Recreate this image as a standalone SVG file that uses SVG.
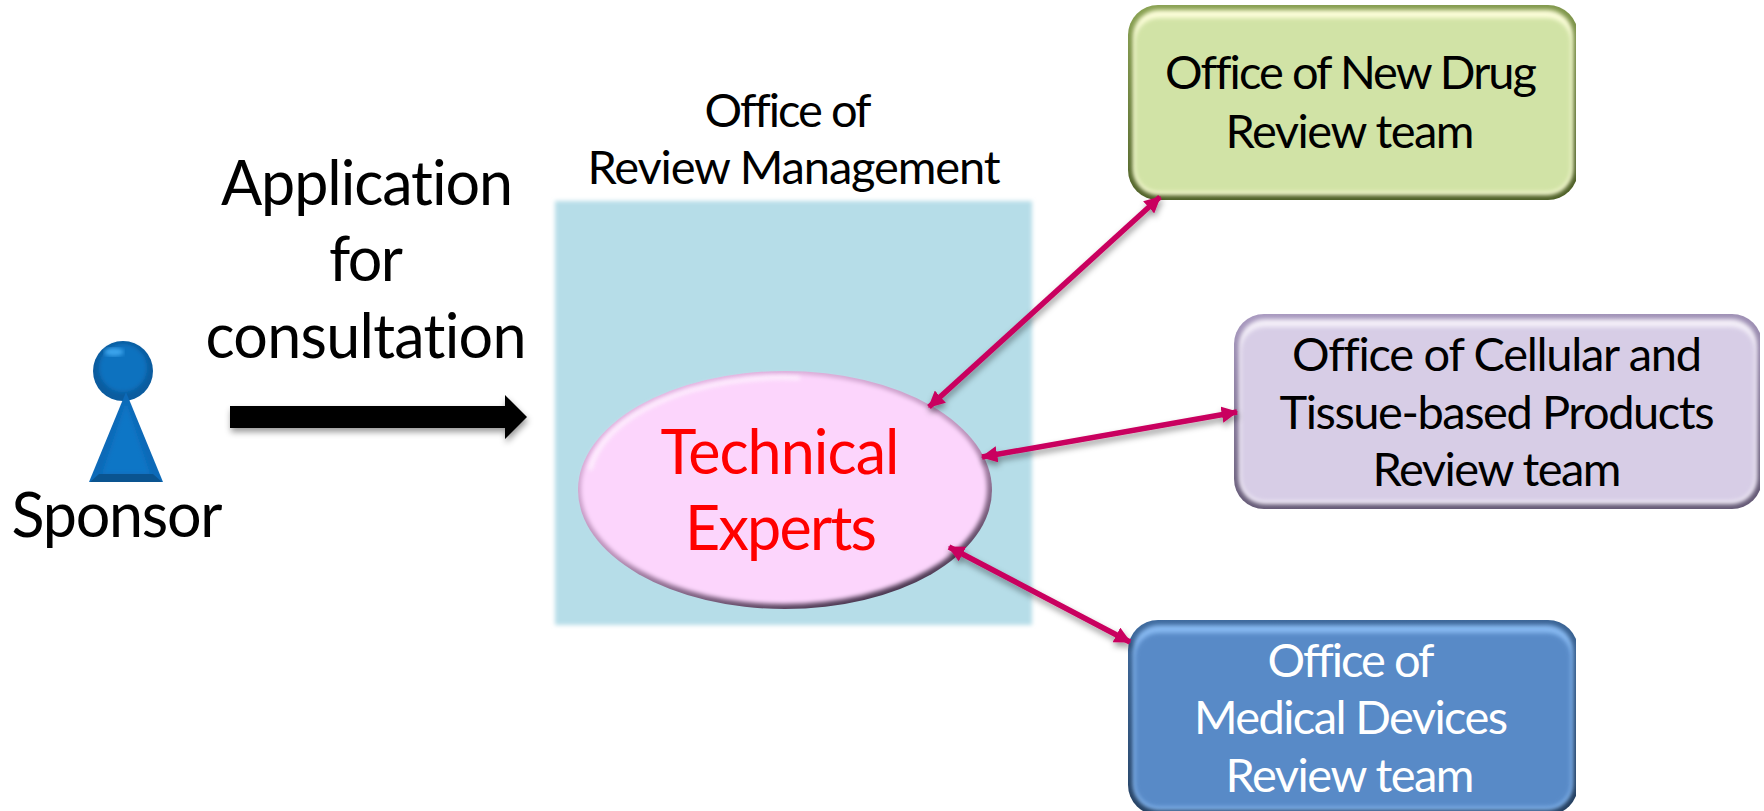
<svg xmlns="http://www.w3.org/2000/svg" width="1764" height="811" viewBox="0 0 1764 811">
<style>
text{font-family:"Lato","Liberation Sans",sans-serif;text-anchor:middle;fill:#000;font-variant-ligatures:none}
.b{font-size:61px}.m{font-size:47px}.w{fill:#fff}
.c{fill:none;stroke:#c9005f;stroke-width:5.5}
</style>
<defs>
<filter id="soft" x="-5%" y="-5%" width="110%" height="110%"><feGaussianBlur stdDeviation="2"/></filter>
<filter id="sh" x="-20%" y="-20%" width="140%" height="150%"><feDropShadow dx="1" dy="4" stdDeviation="3" flood-color="#000" flood-opacity=".4"/></filter>
<marker id="ah" markerWidth="3" markerHeight="3" refX="6.5" refY="3.5" orient="auto-start-reverse" viewBox="0 0 7 7"><path d="M0 0L7 3.5L0 7Z" fill="#c9005f"/></marker>
<linearGradient id="gG" x1="0" y1="0" x2="0.15" y2="1"><stop offset="0" stop-color="#8aa253"/><stop offset="1" stop-color="#4f6128"/></linearGradient>
<linearGradient id="gP" x1="0" y1="0" x2="0.15" y2="1"><stop offset="0" stop-color="#a99ac0"/><stop offset="1" stop-color="#655a76"/></linearGradient>
<linearGradient id="gB" x1="0" y1="0" x2="0.15" y2="1"><stop offset="0" stop-color="#3f6b9f"/><stop offset="1" stop-color="#254061"/></linearGradient>
<linearGradient id="gE" x1="0.2" y1="0" x2="0.75" y2="1"><stop offset="0" stop-color="#e6b8e4"/><stop offset=".55" stop-color="#b78fb6"/><stop offset="1" stop-color="#3f2f46"/></linearGradient>
<clipPath id="cG"><rect x="1120" y="0" width="456" height="210"/></clipPath>
<clipPath id="cP"><rect x="1225" y="305" width="535" height="215"/></clipPath>
<clipPath id="cB"><rect x="1120" y="610" width="456" height="201"/></clipPath>
<clipPath id="cH"><rect x="90" y="340" width="64" height="90"/></clipPath>
</defs>

<g id="office-panel">
<rect x="555" y="201" width="477" height="424" fill="#b6dde8" filter="url(#soft)"/>
<text class="m" x="788" y="127" textLength="167">Office of</text>
<text class="m" x="794" y="184" textLength="413">Review Management</text>
</g>

<g id="sponsor">
<g clip-path="url(#cH)">
<circle cx="123" cy="371" r="30" fill="#0b5c9f"/>
<circle cx="123" cy="368" r="24" fill="#0f72bf" filter="url(#soft)"/>
<ellipse cx="114" cy="352" rx="10" ry="4" fill="#3ea6ee" filter="url(#soft)"/>
</g>
<path d="M126 392L163 482H89Z" fill="#0d6ab8"/>
<path d="M126 402L150 474H102Z" fill="#1076c6" filter="url(#soft)"/>
<path d="M90 482L99 474H153L162 482Z" fill="#0a5490"/>
<text class="b" x="117" y="537" textLength="211">Sponsor</text>
</g>

<g id="application">
<text class="b" x="367" y="205" textLength="292">Application</text>
<text class="b" x="366" y="281" textLength="74">for</text>
<text class="b" x="366" y="358" textLength="321">consultation</text>
<path d="M230 406H505V395L527 417L505 439V428H230Z" fill="#000" filter="url(#sh)"/>
</g>

<g id="technical-experts">
<ellipse cx="785" cy="490" rx="207" ry="119" fill="url(#gE)"/>
<ellipse cx="784" cy="489" rx="203" ry="115" fill="#fcd5fc" filter="url(#soft)"/>
<path d="M590 470A195 105 0 0 1 800 378" fill="none" stroke="#fff" stroke-width="4" opacity=".7" filter="url(#soft)"/>
<text class="b" x="780" y="474" textLength="239" style="fill:#f00">Technical</text>
<text class="b" x="781" y="550" textLength="192" style="fill:#f00">Experts</text>
</g>

<g id="new-drug">
<g clip-path="url(#cG)">
<rect x="1128" y="5" width="450" height="195" rx="30" fill="url(#gG)"/>
<rect x="1133" y="10" width="440" height="185" rx="26" fill="#fbfdd8" filter="url(#soft)"/>
<rect x="1135" y="18" width="436" height="174" rx="24" fill="#d1e3a6" filter="url(#soft)"/>
</g>
<text class="m" x="1351" y="89" textLength="372">Office of New Drug</text>
<text class="m" x="1350" y="148" textLength="249">Review team</text>
</g>

<g id="cellular">
<g clip-path="url(#cP)">
<rect x="1234" y="314" width="528" height="195" rx="30" fill="url(#gP)"/>
<rect x="1239" y="319" width="518" height="185" rx="26" fill="#f3eef8" filter="url(#soft)"/>
<rect x="1241" y="327" width="514" height="174" rx="24" fill="#d7cde6" filter="url(#soft)"/>
</g>
<text class="m" x="1497" y="371" textLength="410">Office of Cellular and</text>
<text class="m" x="1497" y="429" textLength="435">Tissue-based Products</text>
<text class="m" x="1497" y="486" textLength="249">Review team</text>
</g>

<g id="medical-devices">
<g clip-path="url(#cB)">
<rect x="1128" y="620" width="450" height="195" rx="30" fill="url(#gB)"/>
<rect x="1133" y="625" width="440" height="185" rx="26" fill="#86b8f0" filter="url(#soft)"/>
<rect x="1135" y="633" width="436" height="174" rx="24" fill="#588ac7" filter="url(#soft)"/>
</g>
<text class="m w" x="1351" y="677" textLength="167" style="fill:#fff">Office of</text>
<text class="m w" x="1351" y="734" textLength="314" style="fill:#fff">Medical Devices</text>
<text class="m w" x="1350" y="792" textLength="249" style="fill:#fff">Review team</text>
</g>

<g id="connectors" filter="url(#sh)">
<line class="c" x1="1160" y1="197" x2="929" y2="407" marker-start="url(#ah)" marker-end="url(#ah)"/>
<line class="c" x1="1237" y1="412" x2="982" y2="457" marker-start="url(#ah)" marker-end="url(#ah)"/>
<line class="c" x1="949" y1="547" x2="1130" y2="642" marker-start="url(#ah)" marker-end="url(#ah)"/>
</g>
</svg>
